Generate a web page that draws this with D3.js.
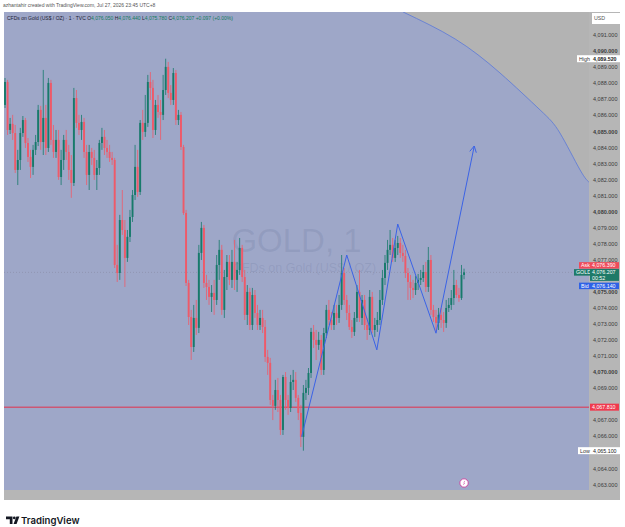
<!DOCTYPE html>
<html>
<head>
<meta charset="utf-8">
<script src="https://cdn.jsdelivr.net/npm/d3@7"></script>
<style>
  body { margin: 0; background: #fff; }
  svg { display: block; font-family: "Liberation Sans", Arial, sans-serif; }
</style>
</head>
<body>
<div id="chart"></div>
<script>
// 1-minute bars from 20:45 to 23:45, [open, high, low, close]
const bars = [
  [4086.64,4088.32,4086.45,4088.07],[4088.07,4088.20,4084.77,4085.08],[4085.08,4085.83,4084.83,4085.46],[4085.46,4086.02,4084.46,4084.89],
  [4084.89,4085.39,4082.40,4082.59],[4082.59,4083.84,4081.65,4083.21],[4083.21,4085.21,4082.59,4084.89],[4084.89,4085.95,4084.65,4085.70],
  [4085.70,4085.83,4083.96,4084.27],[4084.27,4084.58,4083.09,4083.40],[4083.40,4083.84,4082.09,4082.78],[4082.78,4084.15,4082.28,4083.84],
  [4083.84,4084.77,4083.52,4084.33],[4084.33,4086.64,4084.08,4086.33],[4086.33,4086.58,4083.84,4084.33],[4084.33,4088.82,4083.52,4085.83],
  [4085.83,4086.64,4083.52,4083.96],[4083.96,4088.32,4083.71,4088.01],[4088.01,4088.20,4084.15,4084.46],[4084.46,4085.39,4083.34,4083.71],
  [4083.71,4085.08,4083.34,4084.46],[4084.46,4085.08,4081.97,4082.15],[4082.15,4083.84,4081.65,4083.21],[4083.21,4084.77,4082.59,4084.46],
  [4084.46,4085.08,4083.21,4083.71],[4083.71,4084.15,4081.97,4082.59],[4082.59,4083.52,4080.85,4081.78],[4081.78,4087.70,4081.59,4087.07],
  [4087.07,4087.57,4085.21,4085.52],[4085.52,4086.02,4084.77,4085.08],[4085.08,4086.02,4084.46,4085.58],[4085.58,4085.83,4083.34,4083.71],
  [4083.71,4084.15,4081.65,4082.28],[4082.28,4084.15,4081.34,4083.71],[4083.71,4083.96,4082.90,4083.34],[4083.34,4083.84,4081.97,4082.28],
  [4082.28,4083.21,4081.34,4082.71],[4082.71,4084.46,4082.28,4084.27],[4084.27,4085.21,4083.84,4084.65],[4084.65,4085.08,4083.52,4083.96],
  [4083.96,4084.46,4083.34,4083.71],[4083.71,4084.15,4083.09,4083.34],[4083.34,4083.71,4082.90,4083.21],[4083.21,4083.34,4076.48,4076.67],
  [4076.67,4077.92,4075.61,4076.17],[4076.17,4079.79,4075.74,4079.47],[4079.47,4081.34,4078.54,4078.85],[4078.85,4079.47,4075.30,4077.11],
  [4077.11,4078.85,4076.86,4078.42],[4078.42,4080.10,4078.10,4079.66],[4079.66,4081.34,4079.35,4081.03],[4081.03,4084.15,4080.72,4082.78],
  [4082.78,4083.84,4080.91,4081.22],[4081.22,4085.70,4081.03,4085.52],[4085.52,4086.33,4084.46,4084.96],[4084.96,4087.26,4084.65,4085.52],
  [4085.52,4088.51,4085.27,4088.07],[4088.07,4088.69,4086.95,4087.70],[4087.70,4088.20,4084.58,4085.08],[4085.08,4086.95,4084.77,4086.64],
  [4086.64,4087.26,4085.83,4086.20],[4086.20,4086.95,4084.46,4086.02],[4086.02,4088.51,4085.70,4087.57],[4087.57,4089.52,4087.26,4089.01],
  [4089.01,4089.32,4087.07,4087.39],[4087.39,4087.88,4086.64,4086.95],[4086.95,4088.94,4086.64,4088.63],[4088.63,4088.82,4085.39,4085.70],
  [4085.70,4086.33,4085.39,4086.02],[4086.02,4086.20,4083.84,4084.02],[4084.02,4084.15,4079.79,4079.91],[4079.91,4080.10,4075.36,4075.55],
  [4075.55,4075.74,4072.93,4073.43],[4073.43,4073.87,4070.75,4071.56],[4071.56,4074.18,4071.25,4073.37],[4073.37,4074.49,4072.31,4072.75],
  [4072.75,4077.92,4072.43,4077.42],[4077.42,4079.35,4076.98,4078.98],[4078.98,4079.16,4075.24,4075.55],[4075.55,4076.05,4074.49,4075.30],
  [4075.30,4075.74,4074.18,4074.68],[4074.68,4075.42,4073.74,4074.93],[4074.93,4075.74,4073.56,4074.49],[4074.49,4077.29,4074.18,4076.67],
  [4076.67,4078.23,4075.74,4077.61],[4077.61,4077.92,4073.56,4073.87],[4073.87,4076.36,4073.37,4075.92],[4075.92,4077.29,4075.11,4076.86],
  [4076.86,4077.29,4075.42,4075.74],[4075.74,4077.61,4075.24,4076.86],[4076.86,4078.23,4075.11,4075.74],[4075.74,4076.86,4074.99,4076.36],
  [4076.36,4078.35,4076.05,4077.73],[4077.73,4077.92,4075.61,4075.92],[4075.92,4076.36,4073.24,4073.56],[4073.56,4075.42,4072.93,4074.99],
  [4074.99,4075.24,4072.62,4072.93],[4072.93,4075.24,4072.62,4074.80],[4074.80,4075.11,4073.37,4073.68],[4073.68,4074.18,4072.62,4072.93],
  [4072.93,4073.87,4072.62,4073.37],[4073.37,4073.87,4072.43,4072.81],[4072.81,4073.24,4070.63,4070.94],[4070.94,4071.38,4069.82,4070.57],
  [4070.57,4070.88,4067.95,4068.26],[4068.26,4068.57,4067.01,4067.89],[4067.89,4069.51,4067.64,4068.88],[4068.88,4069.63,4067.51,4068.26],
  [4068.26,4068.57,4066.08,4066.39],[4066.39,4069.82,4066.08,4069.69],[4069.69,4070.00,4067.64,4068.26],[4068.26,4068.57,4067.33,4067.76],
  [4067.76,4069.82,4067.51,4069.38],[4069.38,4070.13,4068.88,4069.51],[4069.51,4070.00,4068.14,4068.39],[4068.39,4068.57,4067.01,4067.45],
  [4067.45,4067.95,4065.33,4065.96],[4065.96,4069.19,4065.10,4068.70],[4068.70,4069.51,4068.26,4069.01],[4069.01,4070.25,4068.57,4069.94],
  [4069.94,4072.75,4069.63,4072.50],[4072.50,4072.93,4071.50,4072.00],[4072.00,4072.62,4070.75,4071.69],[4071.69,4072.50,4071.38,4072.00],
  [4072.00,4072.31,4069.82,4070.13],[4070.13,4072.75,4069.82,4072.43],[4072.43,4074.18,4072.12,4073.87],[4073.87,4074.49,4072.93,4073.24],
  [4073.24,4073.74,4072.62,4072.93],[4072.93,4074.18,4072.62,4073.68],[4073.68,4074.18,4072.93,4073.37],[4073.37,4074.80,4073.06,4074.18],
  [4074.18,4077.29,4073.87,4076.17],[4076.17,4076.48,4074.18,4074.49],[4074.49,4074.80,4073.24,4073.68],[4073.68,4074.18,4072.62,4072.81],
  [4072.81,4073.24,4072.12,4072.50],[4072.50,4073.74,4072.25,4073.37],[4073.37,4075.42,4073.12,4074.99],[4074.99,4076.36,4073.12,4073.37],
  [4073.37,4074.80,4072.93,4074.49],[4074.49,4074.80,4072.62,4072.93],[4072.93,4073.37,4072.00,4072.62],[4072.62,4075.11,4072.31,4074.68],
  [4074.68,4074.99,4072.43,4072.62],[4072.62,4073.37,4072.19,4072.93],[4072.93,4073.74,4072.50,4073.24],[4073.24,4075.11,4072.93,4074.49],
  [4074.49,4076.36,4074.18,4075.86],[4075.86,4077.29,4075.42,4076.80],[4076.80,4078.23,4076.36,4077.61],[4077.61,4078.85,4077.29,4077.92],
  [4077.92,4078.35,4076.86,4077.11],[4077.11,4078.23,4076.86,4077.73],[4077.73,4078.48,4077.29,4078.04],[4078.04,4078.35,4077.11,4077.42],
  [4077.42,4077.92,4076.86,4077.23],[4077.23,4077.61,4075.86,4076.17],[4076.17,4076.48,4074.49,4075.61],[4075.61,4076.05,4074.49,4075.24],
  [4075.24,4075.74,4074.61,4075.11],[4075.11,4075.99,4074.80,4075.55],[4075.55,4076.11,4075.11,4075.74],[4075.74,4076.36,4075.42,4075.86],
  [4075.86,4076.67,4075.61,4076.23],[4076.23,4076.86,4074.99,4075.30],[4075.30,4077.79,4074.99,4076.98],[4076.98,4077.29,4073.56,4073.87],
  [4073.87,4074.18,4073.12,4073.43],[4073.43,4073.87,4072.50,4073.06],[4073.06,4073.99,4072.62,4073.56],[4073.56,4073.99,4072.75,4073.24],
  [4073.24,4073.74,4072.50,4073.06],[4073.06,4074.49,4072.75,4073.99],[4073.99,4074.61,4073.74,4074.18],[4074.18,4075.11,4073.87,4074.61],
  [4074.61,4076.36,4074.18,4075.42],[4075.42,4075.74,4074.61,4074.80],[4074.80,4075.24,4074.37,4074.61],[4074.61,4076.67,4074.49,4076.05],
  [4076.05,4076.44,4075.78,4076.21]
];

// time axis: minutes after 20:45
const timeTickMinutes = [0, 15, 30, 45, 60, 75, 90, 105, 120, 135, 150, 165, 180, 195, 210, 225];
const timeTickLabels = ["20:45", "21:00", "21:15", "21:30", "21:45", "22:00", "22:15", "22:30", "22:45",
                        "23:00", "23:15", "23:30", "23:45", "28", "00:15", "00:30"];
const priceTicks = [4063, 4064, 4065, 4066, 4067, 4068, 4069, 4070, 4071, 4072, 4073, 4074, 4075, 4076, 4077,
                    4078, 4079, 4080, 4081, 4082, 4083, 4084, 4085, 4086, 4087, 4088, 4089, 4090, 4091];

// drawings: [minute, price]
const zigzag = [[116.3, 4065.97], [134, 4077.29], [145.8, 4071.38], [154, 4079.22], [169, 4072.42], [184, 4084.08]];
const arcEdge = [[156.1, 4092.43], [176.5, 4090.75], [194.1, 4088.63], [209.8, 4086.33], [217.6, 4084.89], [225.5, 4082.59], [229.4, 4081.78]];

const levelPrice = 4067.81;
const highPrice = 4089.52, lowPrice = 4065.10;
const askPrice = 4076.39, lastPrice = 4076.207, bidPrice = 4076.14;

const W = 625, H = 527;
const plot = { left: 4, right: 589, top: 12, bottom: 490 };
const axisRight = 620, axisBottom = 500;

const x = d3.scaleLinear().domain([-0.4, 229]).range([plot.left, plot.right]);
const y = d3.scaleLinear().domain([4062.65, 4092.43]).range([plot.bottom, plot.top]);

const upColor = "#177a6b", downColor = "#ee5a69";
const fmt = d3.format(",.3f");

const svg = d3.select("#chart").append("svg").attr("width", W).attr("height", H);
svg.append("rect").attr("width", W).attr("height", H).attr("fill", "#fff");

svg.append("text").attr("x", 3).attr("y", 7).attr("font-size", 5).attr("fill", "#555")
  .text("azhantahir created with TradingView.com, Jul 27, 2026 23:45 UTC+8");

svg.append("defs").append("clipPath").attr("id", "plotClip")
  .append("rect").attr("x", plot.left).attr("y", plot.top)
  .attr("width", plot.right - plot.left).attr("height", plot.bottom - plot.top);

// axis strips
svg.append("rect").attr("x", plot.right).attr("y", plot.top)
  .attr("width", axisRight - plot.right).attr("height", axisBottom - plot.top).attr("fill", "#b6b6b6");
svg.append("rect").attr("x", plot.left).attr("y", plot.bottom)
  .attr("width", plot.right - plot.left).attr("height", axisBottom - plot.bottom).attr("fill", "#b6b6b6");

const g = svg.append("g").attr("clip-path", "url(#plotClip)");
g.append("rect").attr("x", plot.left).attr("y", plot.top)
  .attr("width", plot.right - plot.left).attr("height", plot.bottom - plot.top).attr("fill", "#9ea7c8");

// grey region outside the drawn ellipse
const edgePts = arcEdge.map(d => [x(d[0]), y(d[1])]);
const edgeLine = d3.line().curve(d3.curveNatural);
g.append("path")
  .attr("d", edgeLine(edgePts) + `L${plot.right + 10},${edgePts[edgePts.length - 1][1]}L${plot.right + 10},${plot.top - 5}L${edgePts[0][0]},${plot.top - 5}Z`)
  .attr("fill", "#b3b3b3");
g.append("path").attr("d", edgeLine(edgePts)).attr("fill", "none")
  .attr("stroke", "#5a78d8").attr("stroke-width", 0.8);

// watermark
g.append("text").attr("x", (plot.left + plot.right) / 2).attr("y", 252).attr("text-anchor", "middle")
  .attr("font-size", 33).attr("fill", "#56628c").attr("fill-opacity", 0.16).text("GOLD, 1");
g.append("text").attr("x", (plot.left + plot.right) / 2 + 8).attr("y", 272).attr("text-anchor", "middle")
  .attr("font-size", 12.5).attr("fill", "#56628c").attr("fill-opacity", 0.16).text("CFDs on Gold (US$ / OZ)");

// horizontal level and last price line
g.append("line").attr("x1", plot.left).attr("x2", plot.right)
  .attr("y1", y(levelPrice)).attr("y2", y(levelPrice)).attr("stroke", "#e3324c").attr("stroke-width", 1);
g.append("line").attr("x1", plot.left).attr("x2", plot.right)
  .attr("y1", y(lastPrice)).attr("y2", y(lastPrice)).attr("stroke", "#8d93ad")
  .attr("stroke-width", 0.8).attr("stroke-dasharray", "1,2");

// candles
const candle = g.append("g").selectAll("g").data(bars).join("g");
candle.append("line")
  .attr("x1", (d, i) => x(i)).attr("x2", (d, i) => x(i))
  .attr("y1", d => y(d[1])).attr("y2", d => y(d[2]))
  .attr("stroke", d => d[3] >= d[0] ? upColor : downColor).attr("stroke-width", 0.8);
candle.append("rect")
  .attr("x", (d, i) => x(i) - 0.95).attr("width", 1.9)
  .attr("y", d => y(Math.max(d[0], d[3])))
  .attr("height", d => Math.max(0.7, Math.abs(y(d[0]) - y(d[3]))))
  .attr("fill", d => d[3] >= d[0] ? upColor : downColor);

// zigzag projection with arrow
const zz = zigzag.map(d => [x(d[0]), y(d[1])]);
g.append("path").attr("d", d3.line()(zz)).attr("fill", "none")
  .attr("stroke", "#3b63e6").attr("stroke-width", 1);
const tip = zz[zz.length - 1], prev = zz[zz.length - 2];
const ang = Math.atan2(tip[1] - prev[1], tip[0] - prev[0]);
[-0.5, 0.5].forEach(a => {
  g.append("line").attr("x1", tip[0]).attr("y1", tip[1])
    .attr("x2", tip[0] - 7 * Math.cos(ang + a)).attr("y2", tip[1] - 7 * Math.sin(ang + a))
    .attr("stroke", "#3b63e6").attr("stroke-width", 1);
});

// event marker
const ev = g.append("g").attr("transform", `translate(${x(180)},${plot.bottom - 7})`);
ev.append("circle").attr("r", 4.2).attr("fill", "#fff").attr("stroke", "#c93d9c").attr("stroke-width", 0.9);
ev.append("path").attr("d", "M-1.2,2.2 L0.3,-0.4 L-0.8,-0.4 L1.2,-2.4 L0,0.3 L1.1,0.3 Z").attr("fill", "#c93d9c");

// price axis (ticks hidden under the price tags are left out)
const tagPrices = [levelPrice, lowPrice, lastPrice];
const shownTicks = priceTicks.filter(t => tagPrices.every(p => Math.abs(y(t) - y(p)) > 6));
const yAxis = svg.append("g").attr("transform", `translate(${plot.right},0)`)
  .call(d3.axisRight(y).tickValues(shownTicks).tickSize(0).tickPadding(4).tickFormat(fmt));
yAxis.select(".domain").remove();
yAxis.selectAll("text").attr("font-size", 5.5).attr("fill", "#3a3a3a")
  .attr("font-family", "Liberation Sans, Arial, sans-serif")
  .attr("font-weight", d => d % 5 === 0 ? "bold" : "normal");

// time axis
const xAxis = svg.append("g").attr("transform", `translate(0,${plot.bottom})`);
svg.append("defs").append("clipPath").attr("id", "timeClip")
  .append("rect").attr("x", plot.left).attr("y", plot.bottom)
  .attr("width", plot.right - plot.left).attr("height", axisBottom - plot.bottom);
xAxis.attr("clip-path", "url(#timeClip)")
  .call(d3.axisBottom(x).tickValues(timeTickMinutes).tickSize(0).tickPadding(3.5)
    .tickFormat((d, i) => timeTickLabels[i]));
xAxis.select(".domain").remove();
xAxis.selectAll("text").attr("font-size", 5).attr("fill", "#3a3a3a")
  .attr("font-family", "Liberation Sans, Arial, sans-serif")
  .attr("font-weight", (d, i) => timeTickLabels[i] === "28" ? "bold" : "normal");

// tags
function tag(x0, yc, w, h, fill, label, color, weight) {
  const t = svg.append("g");
  t.append("rect").attr("x", x0).attr("y", yc - h / 2).attr("width", w).attr("height", h).attr("fill", fill);
  t.append("text").attr("x", x0 + 2).attr("y", yc + 1.9).attr("font-size", 5.3)
    .attr("fill", color).attr("font-weight", weight || "normal").text(label);
  return t;
}
tag(592, 18.5, 28, 11, "#fff", "USD", "#555");
tag(577, y(highPrice), 14, 7, "#fff", "High", "#333");
tag(591, y(highPrice), 29, 7, "#fff", fmt(highPrice), "#222", "bold");
tag(578, y(lowPrice), 13, 7, "#fff", "Low", "#333");
tag(591, y(lowPrice), 29, 7, "#fff", fmt(lowPrice), "#222");
tag(590, y(levelPrice), 29, 7, "#f03a4e", fmt(levelPrice), "#fff");

const yl = y(lastPrice);
tag(579, yl - 7, 11, 6.5, "#f04b5a", "Ask", "#fff");
tag(590, yl - 7, 29, 6.5, "#f04b5a", fmt(askPrice), "#fff");
tag(574, yl, 16, 6.5, "#1e7a68", "GOLD", "#fff");
const gold = svg.append("g");
gold.append("rect").attr("x", 590).attr("y", yl - 3.5).attr("width", 29).attr("height", 12).attr("fill", "#1e7a68");
gold.append("text").attr("x", 592).attr("y", yl + 1.9).attr("font-size", 5.3).attr("fill", "#fff").text(fmt(lastPrice));
gold.append("text").attr("x", 592).attr("y", yl + 7.2).attr("font-size", 5.3).attr("fill", "#fff").text("00:52");
tag(579, yl + 13.5, 11, 6.5, "#2f62e6", "Bid", "#fff");
tag(590, yl + 13.5, 29, 6.5, "#2f62e6", fmt(bidPrice), "#fff");

// legend
const leg = svg.append("text").attr("x", 7).attr("y", 20).attr("font-size", 5);
leg.append("tspan").attr("fill", "#1e2235").text("CFDs on Gold (US$ / OZ) · 1 · TVC  ");
const ohlc = [["O", bars[180][0]], ["H", bars[180][1]], ["L", bars[180][2]], ["C", lastPrice]];
ohlc.forEach(([k, v]) => {
  leg.append("tspan").attr("fill", "#1e2235").text(k);
  leg.append("tspan").attr("fill", "#137a5c").text(fmt(v) + " ");
});
leg.append("tspan").attr("fill", "#137a5c").text("+0.097 (+0.00%)");

// TradingView logo
const logo = svg.append("g").attr("fill", "#131722");
logo.append("path").attr("d", "M6,516.5 H12.5 V524 H9.8 V519.2 H6 Z");
logo.append("circle").attr("cx", 14.3).attr("cy", 517.9).attr("r", 1.4);
logo.append("path").attr("d", "M16.4,516.5 H19.4 L16.6,524 H13.6 Z");
svg.append("text").attr("x", 21).attr("y", 524).attr("font-size", 9.6).attr("font-weight", 600)
  .attr("font-family", "Inter, 'Noto Sans', sans-serif").attr("fill", "#131722").text("TradingView");
</script>
</body>
</html>
